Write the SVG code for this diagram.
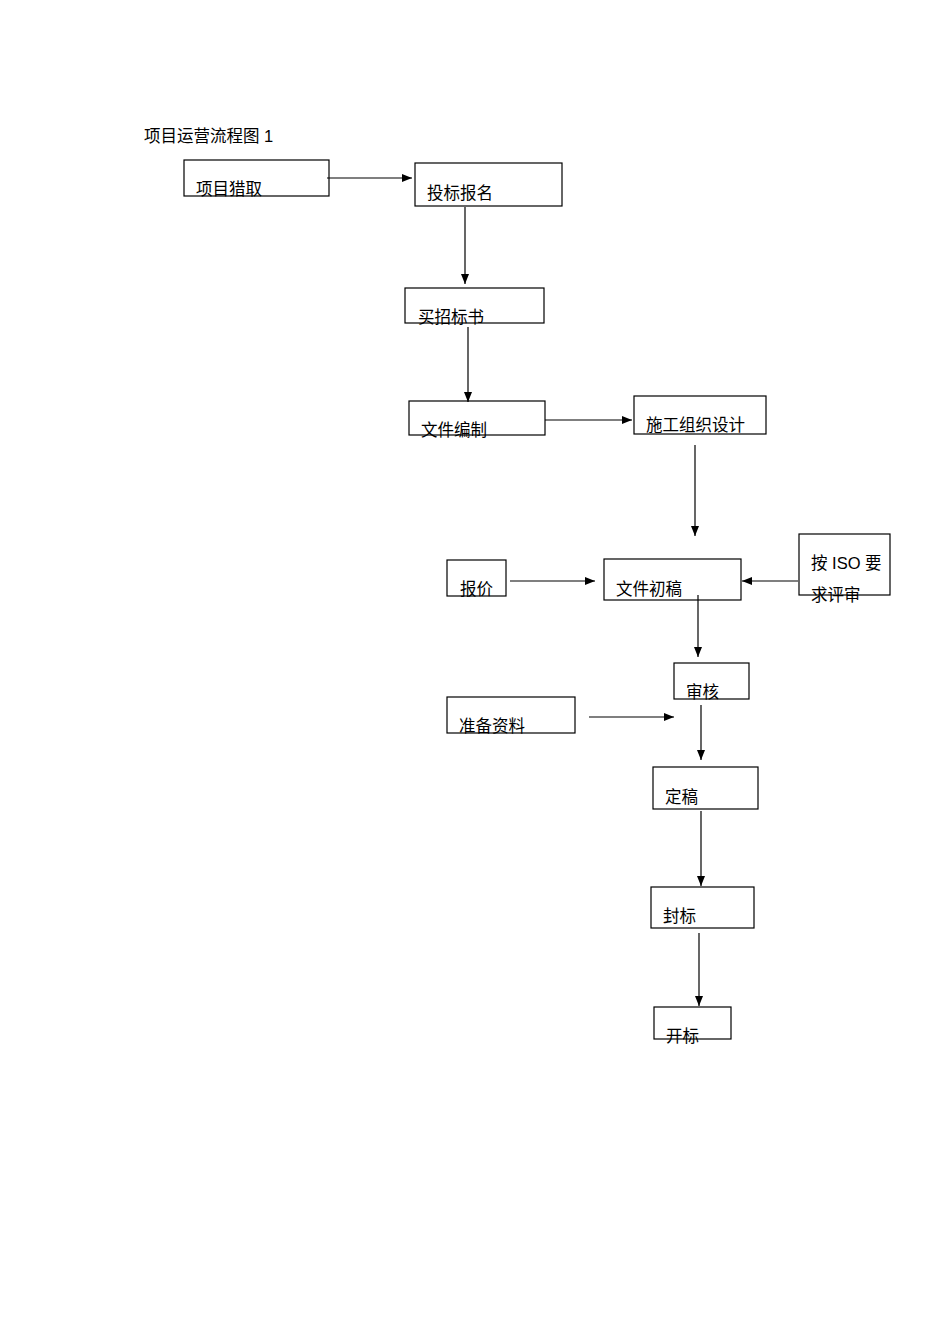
<svg xmlns="http://www.w3.org/2000/svg" width="950" height="1344" viewBox="0 0 950 1344">
<defs>
<marker id="a" markerWidth="10" markerHeight="10" refX="10" refY="5" orient="auto" markerUnits="userSpaceOnUse"><path d="M0,1 L10,5 L0,9 Z" fill="#000"/></marker>
<style>
.n rect{fill:none;stroke:#000;stroke-width:1.2}
text{font-family:"Liberation Sans","Noto Sans CJK SC",sans-serif;font-size:16.5px;fill:#000}
.c line{stroke:#000;stroke-width:1.2;marker-end:url(#a)}
</style>
</defs>
<rect width="950" height="1344" fill="#fff"/>
<text x="144" y="142">项目运营流程图 1</text>
<g class="n">
<g id="n1"><rect x="184" y="160" width="145" height="36"/><text x="196" y="195">项目猎取</text></g>
<g id="n2"><rect x="415" y="163" width="147" height="43"/><text x="427" y="199">投标报名</text></g>
<g id="n3"><rect x="405" y="288" width="139" height="35"/><text x="418" y="323">买招标书</text></g>
<g id="n4"><rect x="409" y="401" width="136" height="34"/><text x="421" y="436">文件编制</text></g>
<g id="n5"><rect x="634" y="396" width="132" height="38"/><text x="646" y="431">施工组织设计</text></g>
<g id="n6"><rect x="447" y="560" width="59" height="36"/><text x="460" y="595">报价</text></g>
<g id="n7"><rect x="604" y="559" width="137" height="41"/><text x="616" y="595">文件初稿</text></g>
<g id="n8"><rect x="799" y="534" width="91" height="61"/><text x="811" y="569">按 ISO 要</text><text x="811" y="601">求评审</text></g>
<g id="n9"><rect x="674" y="663" width="75" height="36"/><text x="686" y="698">审核</text></g>
<g id="n10"><rect x="447" y="697" width="128" height="36"/><text x="459" y="732">准备资料</text></g>
<g id="n11"><rect x="653" y="767" width="105" height="42"/><text x="665" y="803">定稿</text></g>
<g id="n12"><rect x="651" y="887" width="103" height="41"/><text x="663" y="922">封标</text></g>
<g id="n13"><rect x="654" y="1007" width="77" height="32"/><text x="666" y="1042">开标</text></g>
</g>
<g class="c">
<line x1="327" y1="178" x2="412" y2="178"/>
<line x1="465" y1="207" x2="465" y2="284"/>
<line x1="468" y1="327" x2="468" y2="402"/>
<line x1="545" y1="420" x2="632" y2="420"/>
<line x1="695" y1="445" x2="695" y2="536"/>
<line x1="510" y1="581" x2="595" y2="581"/>
<line x1="798" y1="581" x2="742" y2="581"/>
<line x1="698" y1="595" x2="698" y2="657"/>
<line x1="589" y1="717" x2="674" y2="717"/>
<line x1="701" y1="705" x2="701" y2="760"/>
<line x1="701" y1="811" x2="701" y2="886"/>
<line x1="699" y1="933" x2="699" y2="1006"/>
</g>
</svg>
